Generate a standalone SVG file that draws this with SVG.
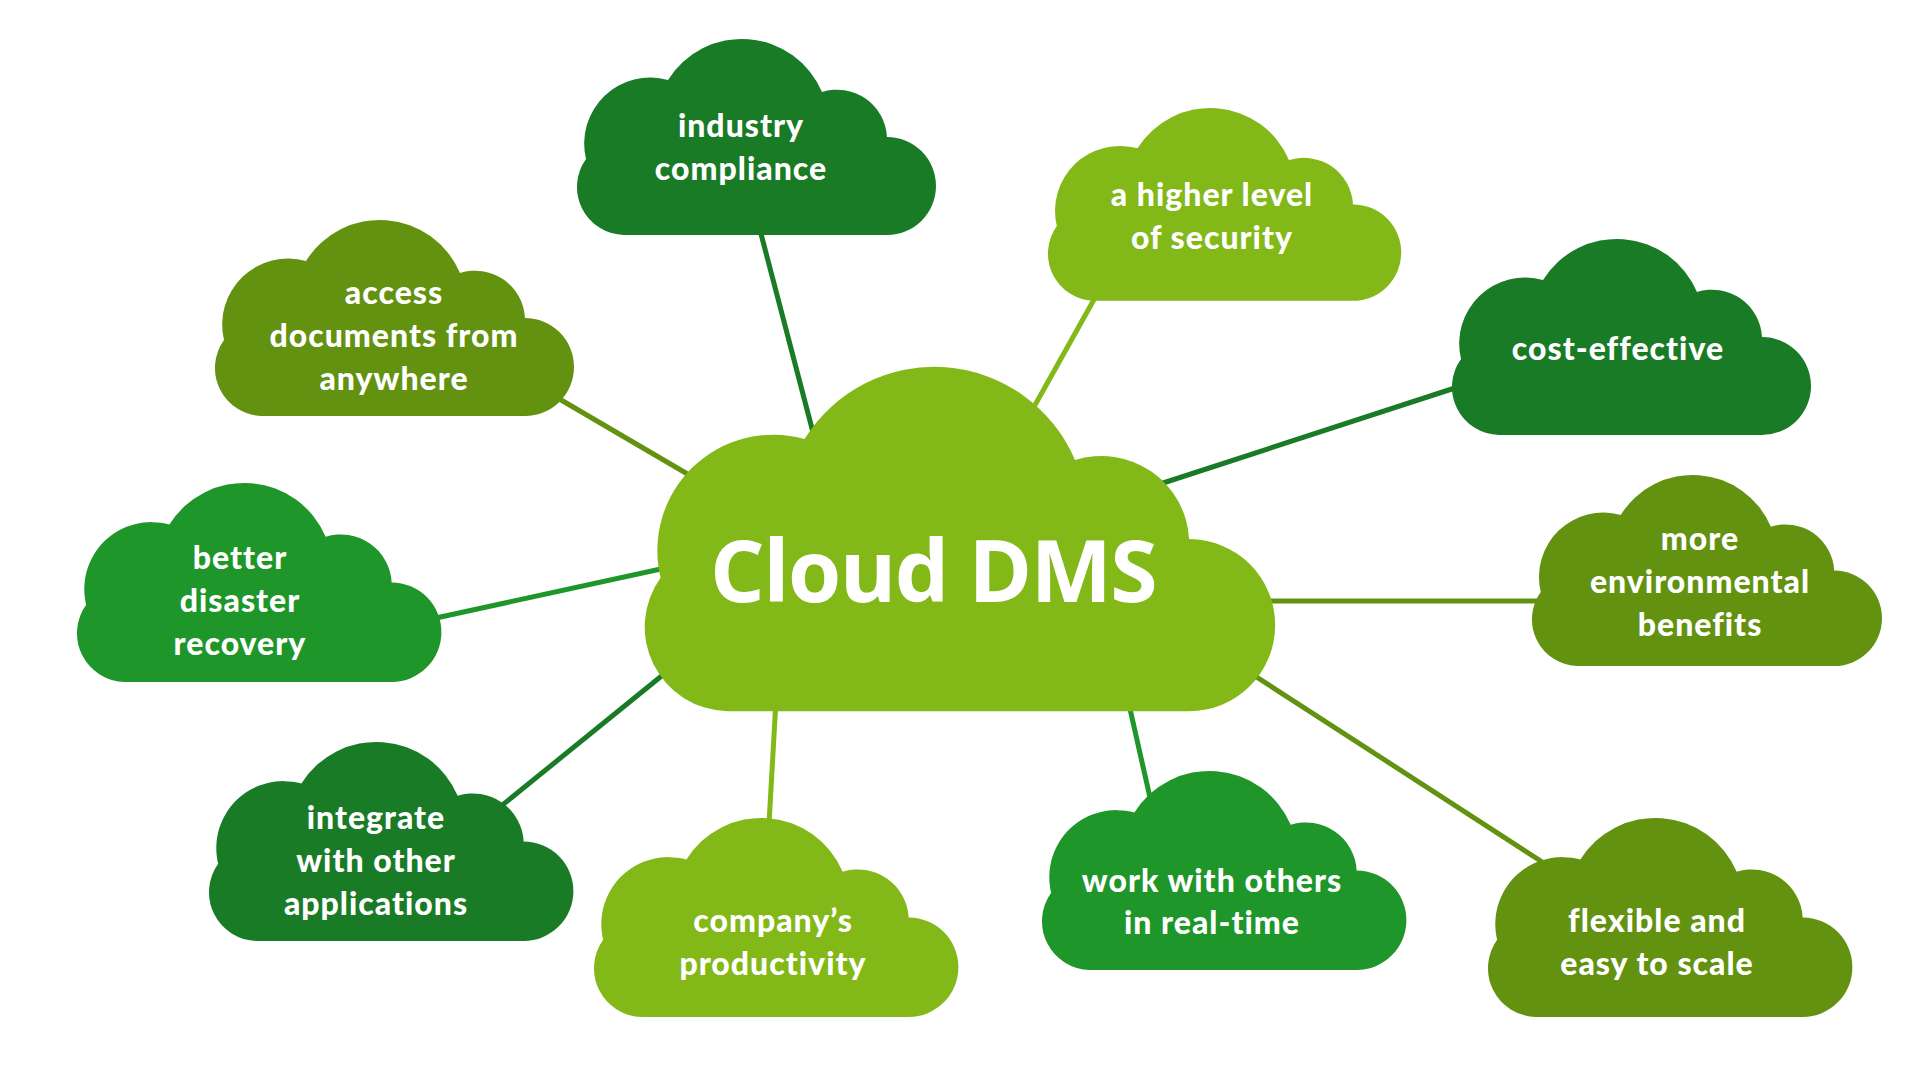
<svg xmlns="http://www.w3.org/2000/svg" width="1920" height="1080" viewBox="0 0 1920 1080">
<defs>
<path id="cloud" d="M48,196 A48,48 0 0 1 10,120 A66,66 0 0 1 92,41 A87,87 0 0 1 246,53 A50,50 0 0 1 311,98 A49,49 0 0 1 311,196 Z"/>
</defs>
<style>
.dk{fill:#1a7b27}.lt{fill:#82b817}.ol{fill:#629210}.md{fill:#1e9629}
.sdk{stroke:#1a7b27}.slt{stroke:#82b817}.sol{stroke:#629210}.smd{stroke:#1e9629}
#connectors line{stroke-width:5;fill:none}
.lbl{font-family:Lato,"Open Sans","Liberation Sans",sans-serif;font-weight:900;font-size:32px;letter-spacing:1px;fill:#ffffff;text-anchor:middle}
.main{font-family:"Open Sans","Liberation Sans",sans-serif;font-weight:700;font-size:86px;letter-spacing:-1.5px;fill:#ffffff;text-anchor:middle}
</style>
<rect width="1920" height="1080" fill="#ffffff"/>
<g id="connectors">
<line class="sdk" x1="760" y1="230" x2="815" y2="440"/>
<line class="slt" x1="1096" y1="296" x2="1030" y2="414"/>
<line class="sol" x1="556" y1="397" x2="696" y2="479"/>
<line class="sdk" x1="1458" y1="387" x2="1160" y2="484"/>
<line class="smd" x1="436" y1="618" x2="670" y2="567"/>
<line class="sol" x1="1265" y1="601" x2="1548" y2="601"/>
<line class="sdk" x1="500" y1="807" x2="664" y2="674"/>
<line class="slt" x1="776" y1="700" x2="769" y2="824"/>
<line class="smd" x1="1128" y1="700" x2="1151" y2="802"/>
<line class="sol" x1="1252" y1="674" x2="1550" y2="867"/>
</g>
<g id="center">
<use href="#cloud" class="lt" transform="translate(643,367) scale(1.756)"/>
<text class="main" x="933" y="602">Cloud DMS</text>
</g>
<g id="industry">
<use href="#cloud" class="dk" transform="translate(576,39)"/>
<text class="lbl"><tspan x="741" y="137">industry</tspan><tspan x="741" y="180">compliance</tspan></text>
</g>
<g id="security">
<use href="#cloud" class="lt" transform="translate(1047,108) scale(0.984)"/>
<text class="lbl"><tspan x="1212" y="206">a higher level</tspan><tspan x="1212" y="249">of security</tspan></text>
</g>
<g id="access">
<use href="#cloud" class="ol" transform="translate(214,220) scale(1.0)"/>
<text class="lbl"><tspan x="394" y="304">access</tspan><tspan x="394" y="347">documents from</tspan><tspan x="394" y="390">anywhere</tspan></text>
</g>
<g id="cost">
<use href="#cloud" class="dk" transform="translate(1451,239)"/>
<text class="lbl"><tspan x="1618" y="360">cost-effective</tspan></text>
</g>
<g id="disaster">
<use href="#cloud" class="md" transform="translate(76,483) scale(1.015)"/>
<text class="lbl"><tspan x="240" y="569">better</tspan><tspan x="240" y="612">disaster</tspan><tspan x="240" y="655">recovery</tspan></text>
</g>
<g id="environment">
<use href="#cloud" class="ol" transform="translate(1531,475) scale(0.975)"/>
<text class="lbl"><tspan x="1700" y="550">more</tspan><tspan x="1700" y="593">environmental</tspan><tspan x="1700" y="636">benefits</tspan></text>
</g>
<g id="integrate">
<use href="#cloud" class="dk" transform="translate(208,742) scale(1.015)"/>
<text class="lbl"><tspan x="376" y="829">integrate</tspan><tspan x="376" y="872">with other</tspan><tspan x="376" y="915">applications</tspan></text>
</g>
<g id="productivity">
<use href="#cloud" class="lt" transform="translate(593,818) scale(1.015)"/>
<text class="lbl"><tspan x="773" y="932">company’s</tspan><tspan x="773" y="975">productivity</tspan></text>
</g>
<g id="realtime">
<use href="#cloud" class="md" transform="translate(1041,771) scale(1.015)"/>
<text class="lbl"><tspan x="1212" y="892">work with others</tspan><tspan x="1212" y="934">in real-time</tspan></text>
</g>
<g id="scale">
<use href="#cloud" class="ol" transform="translate(1487,818) scale(1.015)"/>
<text class="lbl"><tspan x="1657" y="932">flexible and</tspan><tspan x="1657" y="975">easy to scale</tspan></text>
</g>
</svg>
